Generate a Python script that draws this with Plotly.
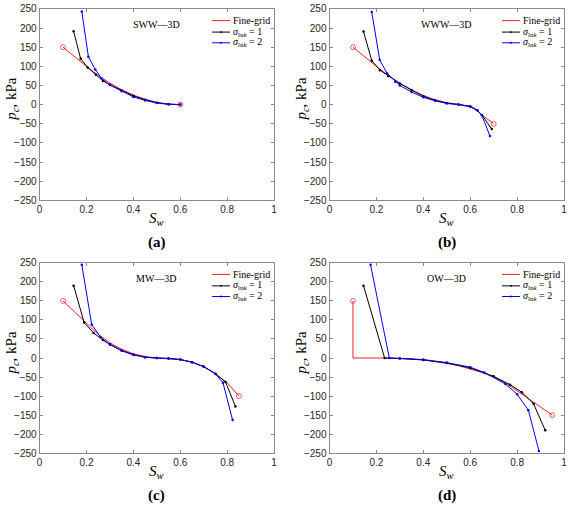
import plotly.graph_objects as go

# ---------------- data ----------------
panel_names = ["SWW\u20143D", "WWW\u20143D", "MW\u20143D", "OW\u20143D"]
panel_tags = ["(a)", "(b)", "(c)", "(d)"]
series_names = ["Fine-grid", "<i>\u03c3</i><sub>ln<i>k</i></sub> = 1", "<i>\u03c3</i><sub>ln<i>k</i></sub> = 2"]

# (a) SWW-3D
fine_a_x = [0.10, 0.15, 0.20, 0.25, 0.30, 0.35, 0.40, 0.45, 0.50, 0.55, 0.60]
fine_a_y = [150, 124, 100, 76, 56, 39, 25, 14, 6, 1.5, 0]
s1_a_x = [0.145, 0.175, 0.205, 0.24, 0.27, 0.30, 0.35, 0.40, 0.45, 0.50, 0.55, 0.60]
s1_a_y = [192, 120, 97, 78, 62, 52, 37, 23, 13, 5, 1, 0]
s2_a_x = [0.18, 0.208, 0.237, 0.265, 0.30, 0.35, 0.40, 0.45, 0.50, 0.55, 0.60]
s2_a_y = [243, 125, 92, 68, 51, 35, 20, 11, 4, 1, 0]

# (b) WWW-3D
fine_b_x = [0.10, 0.15, 0.20, 0.25, 0.30, 0.35, 0.40, 0.45, 0.50, 0.55, 0.60, 0.62, 0.65, 0.70]
fine_b_y = [150, 124, 100, 77, 56, 39, 24, 13, 5, 1, -4, -10, -27, -50]
s1_b_x = [0.145, 0.18, 0.215, 0.25, 0.30, 0.35, 0.40, 0.45, 0.50, 0.55, 0.60, 0.63, 0.65, 0.692]
s1_b_y = [191, 115, 90, 75, 55, 38, 22, 11, 4, 0, -5, -15, -27, -64]
s2_b_x = [0.18, 0.214, 0.246, 0.28, 0.30, 0.35, 0.40, 0.45, 0.50, 0.55, 0.60, 0.63, 0.65, 0.684]
s2_b_y = [242, 117, 81, 60, 50, 33, 19, 10, 3, 0, -5, -15, -28, -82]

# (c) MW-3D
fine_c_x = [0.10, 0.15, 0.20, 0.25, 0.30, 0.35, 0.40, 0.45, 0.50, 0.55, 0.60, 0.65, 0.70, 0.75, 0.80, 0.85]
fine_c_y = [150, 120, 90, 62, 40, 23, 11, 4, 0, -1, -4, -11, -23, -42, -65, -100]
s1_c_x = [0.145, 0.19, 0.23, 0.27, 0.30, 0.35, 0.40, 0.45, 0.50, 0.55, 0.60, 0.65, 0.70, 0.75, 0.793, 0.835]
s1_c_y = [190, 93, 66, 47, 36, 20, 9, 2, 0, -1, -4, -11, -23, -41, -63, -127]
s2_c_x = [0.18, 0.222, 0.26, 0.30, 0.35, 0.40, 0.45, 0.50, 0.55, 0.60, 0.65, 0.70, 0.75, 0.782, 0.823]
s2_c_y = [245, 88, 55, 35, 19, 8, 2, 0, -1, -4, -11, -22, -42, -65, -163]

# (d) OW-3D
fine_d_x = [0.10, 0.10, 0.25, 0.30, 0.35, 0.40, 0.45, 0.50, 0.55, 0.60, 0.65, 0.70, 0.75, 0.80, 0.85, 0.90, 0.95]
fine_d_y = [150, 0, 0, -1, -3, -5, -9, -14, -20, -28, -38, -50, -66, -86, -107, -128, -150]
s1_d_x = [0.145, 0.235, 0.30, 0.40, 0.50, 0.60, 0.70, 0.77, 0.82, 0.87, 0.92]
s1_d_y = [190, 0, -1, -5, -13, -26, -48, -70, -90, -120, -190]
s2_d_x = [0.175, 0.255, 0.30, 0.40, 0.50, 0.60, 0.66, 0.75, 0.80, 0.848, 0.893]
s2_d_y = [245, 0, -1, -4, -12, -24, -38, -68, -95, -137, -244]

x_ticks = [0, 0.2, 0.4, 0.6, 0.8, 1]
x_tick_text = ["0", "0.2", "0.4", "0.6", "0.8", "1"]
y_ticks = [250, 200, 150, 100, 50, 0, -50, -100, -150, -200, -250]

panels = [
    (fine_a_x, fine_a_y, s1_a_x, s1_a_y, s2_a_x, s2_a_y),
    (fine_b_x, fine_b_y, s1_b_x, s1_b_y, s2_b_x, s2_b_y),
    (fine_c_x, fine_c_y, s1_c_x, s1_c_y, s2_c_x, s2_c_y),
    (fine_d_x, fine_d_y, s1_d_x, s1_d_y, s2_d_x, s2_d_y),
]

# ---------------- layout geometry ----------------
W, H = 568, 510
x_dom_px = [(37, 274), (330, 567), (37, 274), (330, 567)]
y_dom_px = [(3, 199), (3, 199), (263, 458), (263, 458)]

SERIF = "Liberation Serif, Times New Roman, serif"
SANS = "Liberation Sans, Arial, sans-serif"
AX_COL = "#8a8a8a"
TXT_COL = "#262626"
RED, BLACK, BLUE = "#ff2020", "#000000", "#0000ff"

fig = go.Figure()
layout = dict(width=W, height=H, margin=dict(l=0, r=0, t=0, b=0),
              paper_bgcolor="white", plot_bgcolor="white", showlegend=False)
annotations = []
shapes = []

for i, (fx, fy, ax_, ay, bx, by) in enumerate(panels):
    k = "" if i == 0 else str(i + 1)
    xa, ya = "x" + k, "y" + k
    x0, x1 = x_dom_px[i]
    yt, yb = y_dom_px[i]
    layout["xaxis" + k] = dict(
        domain=[x0 / W, x1 / W], range=[0, 1], anchor=ya,
        tickvals=x_ticks, ticktext=x_tick_text, ticks="inside", ticklen=3,
        tickcolor=AX_COL, showline=True, linecolor=AX_COL, linewidth=1,
        mirror="ticks", showgrid=False, zeroline=False,
        tickfont=dict(family=SANS, size=10, color=TXT_COL))
    layout["yaxis" + k] = dict(
        domain=[1 - yb / H, 1 - yt / H], range=[-250, 250], anchor=xa,
        tickvals=y_ticks, ticks="inside", ticklen=3,
        tickcolor=AX_COL, showline=True, linecolor=AX_COL, linewidth=1,
        mirror="ticks", showgrid=False, zeroline=False,
        tickfont=dict(family=SANS, size=10, color=TXT_COL))

    n = len(fx)
    fig.add_trace(go.Scatter(
        x=fx, y=fy, mode="lines+markers", name="Fine-grid", xaxis=xa, yaxis=ya,
        line=dict(color=RED, width=1),
        marker=dict(symbol="circle-open", size=[5] + [0] * (n - 2) + [5], color=RED,
                    line=dict(width=1, color=RED))))
    fig.add_trace(go.Scatter(
        x=ax_, y=ay, mode="lines+markers", name="sigma_lnk = 1", xaxis=xa, yaxis=ya,
        line=dict(color=BLACK, width=1), marker=dict(size=2.5, color=BLACK)))
    fig.add_trace(go.Scatter(
        x=bx, y=by, mode="lines+markers", name="sigma_lnk = 2", xaxis=xa, yaxis=ya,
        line=dict(color=BLUE, width=1), marker=dict(size=2.5, color=BLUE)))

    # panel title inside plot
    annotations.append(dict(xref=xa + " domain", yref=ya + " domain", x=0.5, y=0.918,
                            xanchor="center", yanchor="middle",
                            text=panel_names[i], showarrow=False,
                            font=dict(family=SERIF, size=10, color="#000")))
    # legend (manual, compact like reference)
    rows = [0.939, 0.879, 0.823]
    cols = [RED, BLACK, BLUE]
    for r, (yy, c) in enumerate(zip(rows, cols)):
        shapes.append(dict(type="line", xref=xa + " domain", yref=ya + " domain",
                           x0=0.736, x1=0.812, y0=yy, y1=yy,
                           line=dict(color=c, width=1)))
        if r > 0:
            shapes.append(dict(type="circle", xref=xa + " domain", yref=ya + " domain",
                               x0=0.774 - 0.004, x1=0.774 + 0.004,
                               y0=yy - 0.005, y1=yy + 0.005,
                               fillcolor=c, line=dict(color=c, width=0)))
        annotations.append(dict(xref=xa + " domain", yref=ya + " domain", x=0.816, y=yy,
                                xanchor="left", yanchor="middle", text=series_names[r],
                                showarrow=False,
                                font=dict(family=SERIF, size=10, color="#000")))

    # axis labels
    xc = (x0 + x1) / 2 / W
    annotations.append(dict(xref="paper", yref="paper", x=xc, y=1 - (yb + 19) / H,
                            xanchor="center", yanchor="middle",
                            text="<i>S</i><sub><i>w</i></sub>", showarrow=False,
                            font=dict(family=SERIF, size=15, color="#000")))
    annotations.append(dict(xref="paper", yref="paper", x=xc, y=1 - (yb + 43) / H,
                            xanchor="center", yanchor="middle",
                            text="<b>" + panel_tags[i] + "</b>", showarrow=False,
                            font=dict(family=SERIF, size=15, color="#000")))
    annotations.append(dict(xref="paper", yref="paper", x=(x0 - 28) / W,
                            y=1 - (yt + 92) / H, textangle=-90,
                            xanchor="center", yanchor="middle",
                            text="<i>p</i><sub><i>c</i></sub>, kPa", showarrow=False,
                            font=dict(family=SERIF, size=15, color="#000")))

layout["annotations"] = annotations
layout["shapes"] = shapes
fig.update_layout(**layout)
fig.write_html("out.html", config={"displayModeBar": False},
               post_script="document.body.style.margin='0';")
